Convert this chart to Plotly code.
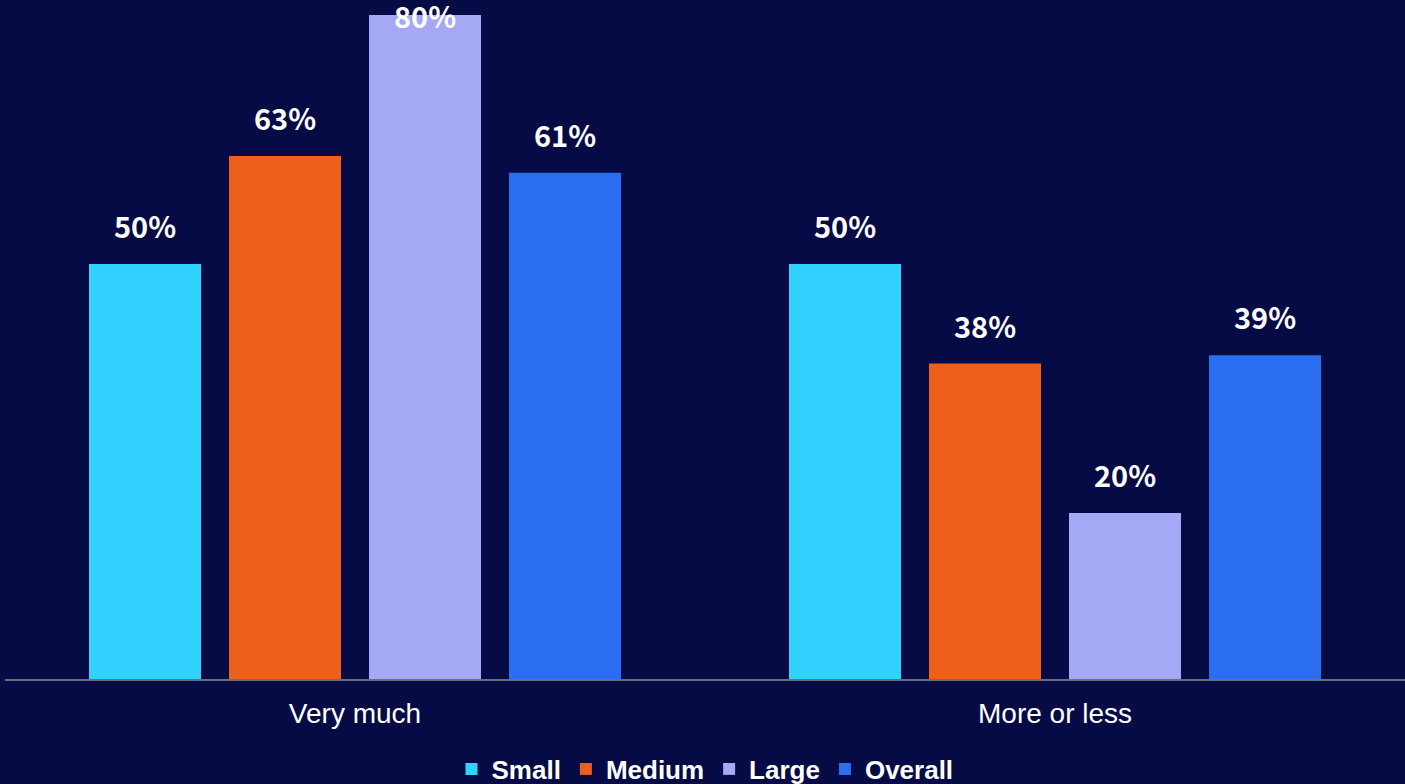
import plotly.graph_objects as go

categories = ["Very much", "More or less"]
series_names = ["Small", "Medium", "Large", "Overall"]
small = [50, 50]
medium = [63, 38]
large = [80, 20]
overall = [61, 39]
value_labels = {
    "Small": ["50%", "50%"],
    "Medium": ["63%", "38%"],
    "Large": ["80%", "20%"],
    "Overall": ["61%", "39%"],
}

colors = ["#31D3FE", "#EE5F1B", "#A5A8F4", "#2B6EF2"]
bg = "#060B45"

values = [small, medium, large, overall]

W, H = 1405, 784
m_l, m_r, m_t, m_b = 5, 0, 0, 105
plot_h = H - m_t - m_b
ymax = 81.8

fig = go.Figure()
for name, vals, col in zip(series_names, values, colors):
    fig.add_trace(go.Bar(
        x=categories, y=vals, name=name,
        marker=dict(color=col, line=dict(width=0)),
        hoverinfo="skip",
    ))

annotations = []
group_step = 140
label_font = dict(family="Noto Sans CJK JP", size=29, color="white", weight=700)
for i, (name, vals) in enumerate(zip(series_names, values)):
    for j, (cat, v) in enumerate(zip(categories, vals)):
        bar_top_px = plot_h * v / ymax
        if bar_top_px + 62 > plot_h:
            annotations.append(dict(
                x=cat, xref="x", y=1, yref="paper", yanchor="top",
                xshift=(i - 1.5) * group_step, yshift=8,
                text=value_labels[name][j], showarrow=False, font=label_font,
            ))
        else:
            annotations.append(dict(
                x=cat, xref="x", y=v, yref="y", yanchor="bottom",
                xshift=(i - 1.5) * group_step, yshift=16,
                text=value_labels[name][j], showarrow=False, font=label_font,
            ))

fig.update_layout(
    width=W, height=H,
    margin=dict(l=m_l, r=m_r, t=m_t, b=m_b),
    paper_bgcolor=bg, plot_bgcolor=bg,
    barmode="group", bargap=0.2, bargroupgap=0.2,
    showlegend=True,
    legend=dict(
        orientation="h", x=0.5, xanchor="center", xref="paper",
        yref="container", y=1 - 769 / H, yanchor="middle",
        font=dict(family="Liberation Sans, Arial", size=26, color="white", weight=700),
        bgcolor="rgba(0,0,0,0)", itemwidth=30, traceorder="normal",
        itemclick=False, itemdoubleclick=False,
    ),
    xaxis=dict(
        showgrid=False, zeroline=False, showline=True,
        linecolor="#6B6E80", linewidth=2,
        ticks="", ticklabelstandoff=8,
        tickfont=dict(family="Liberation Sans, Arial", size=28, color="white"),
    ),
    yaxis=dict(
        range=[0, ymax], visible=False, showgrid=False, zeroline=False,
    ),
    annotations=annotations,
)

fig.write_html(
    "out.html",
    config={"displayModeBar": False},
    post_script="document.body.style.margin='0';document.body.style.overflow='hidden';",
)
